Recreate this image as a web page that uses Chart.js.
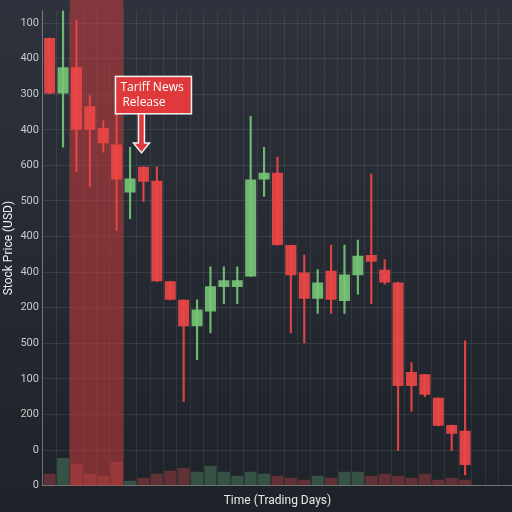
<!DOCTYPE html><html><head><script src="https://cdn.jsdelivr.net/npm/chart.js@4"></script>
<style>html,body{margin:0;padding:0;background:#262a33}#w{width:512px;height:512px;background:linear-gradient(#2d323c,#1e2229)}</style></head><body><div id="w"><canvas id="c" width="512" height="512"></canvas></div>
<script>
const days=Array.from({length:35},(_,i)=>String(i+1));
const openV=[12.58,11.02,11.76,10.66,10.05,9.59,8.24,8.96,8.57,5.74,5.22,4.48,4.89,5.58,5.58,5.88,8.6,8.79,6.76,5.99,5.25,6.04,5.19,5.91,6.48,6.07,5.71,3.19,3.13,2.47,1.7,1.54];
const closeV=[11.02,11.76,10.0,10.0,9.62,8.6,8.63,8.54,5.74,5.22,4.48,4.95,5.6,5.77,5.77,8.6,8.79,6.76,5.91,5.25,5.71,5.22,5.93,6.46,6.29,5.71,2.8,2.8,2.55,1.68,1.46,0.58];
const highV=[12.58,13.35,13.08,10.96,10.25,10.74,9.51,8.96,8.96,5.74,5.22,5.22,6.15,6.15,6.15,10.38,9.51,9.23,6.76,6.48,6.07,6.76,6.76,6.9,8.76,6.35,5.71,3.46,3.13,2.47,1.7,4.07];
const lowV=[11.02,9.51,8.82,8.41,9.37,7.17,7.5,7.99,5.74,5.22,2.36,3.54,4.29,5.11,5.11,5.88,8.13,6.76,4.29,4.01,4.84,4.84,4.84,5.38,5.11,5.66,0.99,2.09,2.5,1.68,0.99,0.3];
const volume=[12,28,22,12,10,24,5,8,12,15,18,14,20,14,10,14,12,10,8,6,10,8,14,14,10,12,10,8,12,6,8,6];
const yTickLabels=['0','0','200','100','500','200','400','400','500','600','400','300','400','100'];
const up=(i)=>closeV[i]>=openV[i];
const col=openV.map((d,i)=>up(i)?'rgba(120,200,120,0.9)':'rgba(235,70,70,0.92)');
const plugin={id:'extra',beforeDatasetsDraw(ch){const x=ch.scales.x,a=ch.chartArea,c=ch.ctx;
 const l=(x.getPixelForValue(1)+x.getPixelForValue(2))/2,r=(x.getPixelForValue(5)+x.getPixelForValue(6))/2;
 c.save();c.fillStyle='rgba(200,60,60,0.55)';c.fillRect(l,0,r-l,a.bottom);c.restore();},
 afterDatasetsDraw(ch){const x=ch.scales.x,y=ch.scales.y,c=ch.ctx;const ax=x.getPixelForValue(7)-2;
 const bt=y.getPixelForValue(11.5),bb=y.getPixelForValue(10.45),tip=y.getPixelForValue(9.35);
 c.save();c.fillStyle='#e0393b';c.strokeStyle='#f3f3f3';c.lineWidth=1.5;
 c.fillRect(ax-26,bt,76,bb-bt);c.strokeRect(ax-26,bt,76,bb-bt);
 c.beginPath();c.moveTo(ax-3,bb);c.lineTo(ax-3,tip-10);c.lineTo(ax-8,tip-10);c.lineTo(ax,tip);c.lineTo(ax+8,tip-10);c.lineTo(ax+3,tip-10);c.lineTo(ax+3,bb);c.closePath();c.fill();c.stroke();
 c.fillStyle='#fff';c.font='12px "Open Sans"';c.textBaseline='middle';c.fillText('Tariff News',ax-21,bt+11);c.fillText('Release',ax-19,bt+26);
 c.restore();}};
new Chart(document.getElementById('c'),{data:{labels:days,datasets:[
 {type:'bar',data:volume,yAxisID:'v',backgroundColor:volume.map((d,i)=>up(i)?'rgba(80,140,100,0.45)':'rgba(200,70,70,0.4)'),categoryPercentage:1,barPercentage:0.9},
 {type:'bar',data:openV.map((d,i)=>[lowV[i],highV[i]]),backgroundColor:col,barThickness:1.5,grouped:false},
 {type:'bar',data:openV.map((d,i)=>[openV[i],closeV[i]]),backgroundColor:col,categoryPercentage:1,barPercentage:0.82,grouped:false,borderSkipped:false}
]},options:{responsive:false,animation:false,layout:{padding:{right:0,top:0,left:0}},plugins:{legend:{display:false},tooltip:{enabled:false}},
 scales:{x:{grid:{color:'rgba(255,255,255,0.07)',drawTicks:false},border:{color:'rgba(255,255,255,0.3)'},ticks:{display:false},title:{display:true,text:'Time (Trading Days)',color:'#e8e8e8',font:{size:12,family:'Roboto'},padding:{top:8,bottom:4}}},
 y:{min:0,max:13.35,afterBuildTicks(s){s.ticks=[...Array(14).keys()].map(v=>({value:v}));},grid:{color:'rgba(255,255,255,0.09)',drawTicks:false},border:{color:'rgba(255,255,255,0.3)'},
  ticks:{color:'#c8c8c8',font:{size:11,family:'Roboto'},padding:4,callback:(v)=>yTickLabels[v]},title:{display:true,text:'Stock Price (USD)',color:'#eee',font:{size:12,family:'Roboto'},padding:{top:2,bottom:0}}},
 v:{display:false,min:0,max:480}}},plugins:[plugin]});
</script></body></html>
